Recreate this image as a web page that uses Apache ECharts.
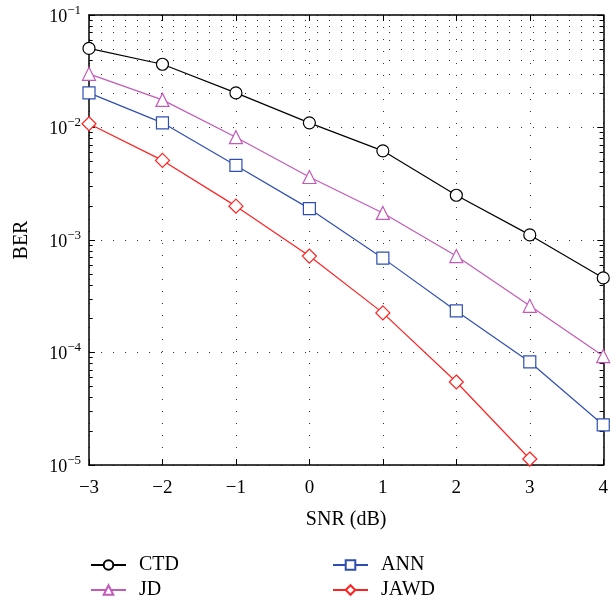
<!DOCTYPE html>
<html>
<head>
<meta charset="utf-8">
<script src="https://cdn.jsdelivr.net/npm/echarts@6/dist/echarts.min.js"></script>
<style>html,body{margin:0;padding:0;background:#fff;}#c{width:611px;height:603px;}</style>
</head>
<body>
<div id="c"></div>
<script>
const snr = [-3, -2, -1, 0, 1, 2, 3, 4];
const ctd  = [0.0505, 0.0365, 0.0203, 0.0110, 0.0062, 0.0025, 0.00111, 0.00046];
const jd   = [0.0300, 0.0176, 0.0082, 0.00363, 0.00174, 0.00072, 0.00026, 0.000093];
const ann  = [0.0203, 0.0110, 0.0046, 0.0019, 0.00069, 0.000234, 0.0000824, 0.0000227];
const jawd = [0.0108, 0.0051, 0.0020, 0.00072, 0.000225, 0.0000547, 0.0000113];
const seriesNames = ['CTD', 'JD', 'ANN', 'JAWD'];
const xTicks = [-3, -2, -1, 0, 1, 2, 3, 4];
const yDecades = [-5, -4, -3, -2, -1];

const FONT = '"Liberation Serif", "DejaVu Serif", serif';
const pair = (ys) => ys.map((v, i) => [snr[i], v]);

// minor log gridlines & ticks
const minorVals = [];
for (let d = -5; d <= -2; d++) for (let m = 2; m <= 9; m++) minorVals.push(m * Math.pow(10, d));
const minorGrid = minorVals.map(v => ({ yAxis: v }));
const minorTicks = [];
minorVals.forEach(v => {
  minorTicks.push([{ coord: [-3, v] }, { coord: [-2.95, v] }]);
  minorTicks.push([{ coord: [3.95, v] }, { coord: [4, v] }]);
});

function mk(name, data, color, symbol, size) {
  return {
    name, type: 'line', data: pair(data), symbol, symbolSize: size,
    showSymbol: true, clip: false,
    lineStyle: { color, width: 1.2 },
    itemStyle: { color: '#fff', borderColor: color, borderWidth: 1.2 },
    emphasis: { disabled: true }, animation: false, z: 5
  };
}

const sup = d => '{b|10}{s|' + (d < 0 ? '\u2212' + (-d) : d) + '}';

const yAxisBase = {
  type: 'log', logBase: 10, min: 1e-5, max: 0.1,
  axisLine: { show: true, onZero: false, lineStyle: { color: '#000', width: 1.5 } },
  axisTick: { show: true, inside: true, length: 6, lineStyle: { color: '#000', width: 1 } },
  minorTick: { show: false }, minorSplitLine: { show: false }
};

const legendBase = {
  orient: 'vertical', top: 555, height: 48, padding: 0,
  itemWidth: 35, itemHeight: 12, itemGap: 5,
  textStyle: { fontFamily: FONT, fontSize: 20, lineHeight: 20, color: '#000', padding: [0, 0, 0, 8] },
  selectedMode: false
};

const option = {
  backgroundColor: '#fff',
  animation: false,
  grid: { left: 89, right: 6, top: 15, bottom: 138, containLabel: false },
  legend: [
    Object.assign({}, legendBase, { data: ['CTD', 'JD'], left: 90 }),
    Object.assign({}, legendBase, { data: ['ANN', 'JAWD'], left: 332 })
  ],
  xAxis: [
    {
      type: 'value', min: -3, max: 4, interval: 1, position: 'bottom',
      name: 'SNR (dB)', nameLocation: 'middle', nameGap: 45,
      nameTextStyle: { fontFamily: FONT, fontSize: 20, color: '#000' },
      axisLine: { show: true, onZero: false, lineStyle: { color: '#000', width: 1.5 } },
      axisTick: { show: true, inside: true, length: 6, lineStyle: { color: '#000' } },
      axisLabel: {
        fontFamily: FONT, fontSize: 19, color: '#000', margin: 14,
        formatter: v => (v < 0 ? '\u2212' + (-v) : String(v))
      },
      splitLine: { show: true, lineStyle: { color: '#333', width: 1, type: [1, 11] } }
    },
    {
      type: 'value', min: -3, max: 4, interval: 1, position: 'top',
      axisLine: { show: true, onZero: false, lineStyle: { color: '#000', width: 1.5 } },
      axisTick: { show: true, inside: true, length: 6, lineStyle: { color: '#000' } },
      axisLabel: { show: false }, splitLine: { show: false }
    }
  ],
  yAxis: [
    Object.assign({}, yAxisBase, {
      position: 'left',
      name: 'BER', nameLocation: 'middle', nameGap: 57, nameRotate: 90,
      nameTextStyle: { fontFamily: FONT, fontSize: 20, color: '#000' },
      axisLabel: {
        margin: 8, color: '#000',
        formatter: v => sup(Math.round(Math.log10(v))),
        rich: {
          b: { fontFamily: FONT, fontSize: 18, color: '#000', lineHeight: 22, verticalAlign: 'bottom' },
          s: { fontFamily: FONT, fontSize: 13, color: '#000', lineHeight: 22, verticalAlign: 'top', padding: [0, 0, 8, 0] }
        }
      },
      splitLine: { show: true, lineStyle: { color: '#333', width: 1, type: [1, 11] } }
    }),
    Object.assign({}, yAxisBase, {
      position: 'right',
      axisLabel: { show: false }, splitLine: { show: false }
    })
  ],
  series: [
    mk('CTD', ctd, '#000000', 'circle', 12),
    mk('JD', jd, '#c25ab8', 'triangle', 13),
    mk('ANN', ann, '#2f4fb0', 'rect', 12),
    mk('JAWD', jawd, '#ff2020', 'diamond', 14),
    {
      name: '_grid', type: 'line', data: [], silent: true, animation: false, z: 1,
      markLine: {
        silent: true, symbol: 'none', animation: false, label: { show: false },
        lineStyle: { color: '#333', width: 1, type: [1, 11] },
        emphasis: { disabled: true },
        data: minorGrid
      }
    },
    {
      name: '_ticks', type: 'line', data: [], silent: true, animation: false, z: 2,
      markLine: {
        silent: true, symbol: 'none', animation: false, label: { show: false },
        lineStyle: { color: '#000', width: 1, type: 'solid' },
        emphasis: { disabled: true },
        data: minorTicks
      }
    }
  ]
};

const chart = echarts.init(document.getElementById('c'), null, { renderer: 'canvas' });
chart.setOption(option);
</script>
</body>
</html>
